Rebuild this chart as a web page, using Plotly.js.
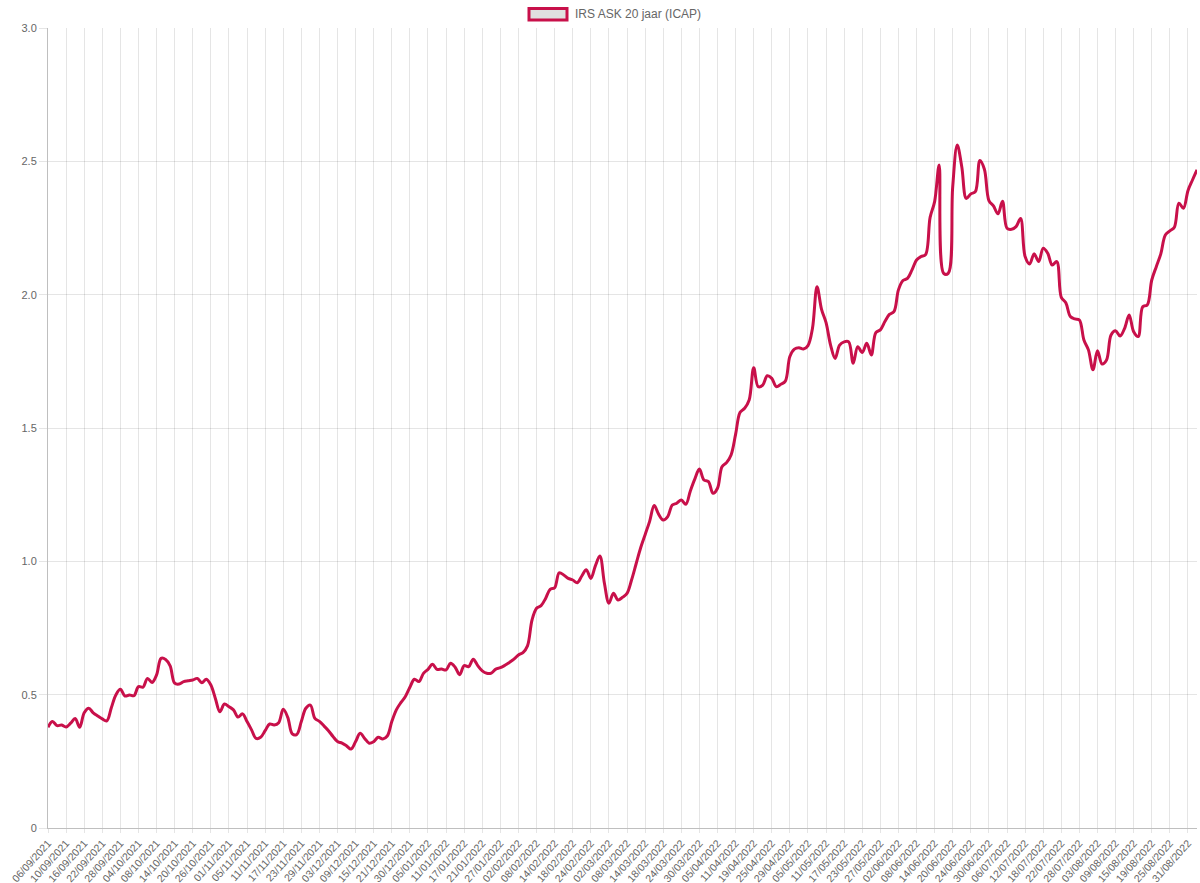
<!DOCTYPE html>
<html>
<head>
<meta charset="utf-8">
<script src="https://cdn.plot.ly/plotly-3.0.1.min.js"></script>
<style>
  html, body { margin: 0; padding: 0; background: #fff; }
  #chart { width: 1200px; height: 883px; }
</style>
</head>
<body>
<div id="chart"></div>
<script>
// IRS ASK 20 jaar (ICAP), one value per business day from 06/09/2021
const seriesName = 'IRS ASK 20 jaar (ICAP)';

const rates = [
  0.378, 0.399, 0.384, 0.386, 0.379, 0.393, 0.411, 0.378, 0.432, 0.449,
  0.432, 0.420, 0.409, 0.402, 0.451, 0.499, 0.520, 0.495, 0.499, 0.496,
  0.530, 0.528, 0.561, 0.546, 0.574, 0.636, 0.632, 0.608, 0.543, 0.540,
  0.549, 0.552, 0.555, 0.561, 0.545, 0.558, 0.536, 0.486, 0.436, 0.465,
  0.455, 0.443, 0.416, 0.428, 0.399, 0.368, 0.336, 0.340, 0.365, 0.390,
  0.386, 0.395, 0.445, 0.415, 0.353, 0.351, 0.399, 0.449, 0.461, 0.411,
  0.400, 0.383, 0.365, 0.343, 0.324, 0.318, 0.308, 0.296, 0.324, 0.355,
  0.336, 0.318, 0.324, 0.340, 0.334, 0.345, 0.399, 0.443, 0.470, 0.493,
  0.528, 0.558, 0.549, 0.580, 0.595, 0.614, 0.595, 0.596, 0.593, 0.618,
  0.603, 0.575, 0.609, 0.605, 0.633, 0.609, 0.589, 0.580, 0.581, 0.596,
  0.601, 0.610, 0.621, 0.633, 0.649, 0.658, 0.683, 0.780, 0.824, 0.834,
  0.861, 0.895, 0.901, 0.957, 0.949, 0.936, 0.930, 0.920, 0.945, 0.968,
  0.936, 0.983, 1.020, 0.918, 0.843, 0.880, 0.855, 0.865, 0.880, 0.930,
  0.990, 1.050, 1.100, 1.150, 1.209, 1.176, 1.155, 1.168, 1.211, 1.218,
  1.230, 1.214, 1.264, 1.309, 1.346, 1.305, 1.299, 1.255, 1.274, 1.355,
  1.370, 1.399, 1.476, 1.559, 1.574, 1.605, 1.726, 1.655, 1.661, 1.696,
  1.686, 1.655, 1.664, 1.676, 1.768, 1.796, 1.801, 1.796, 1.809, 1.874,
  2.030, 1.945, 1.895, 1.811, 1.761, 1.811, 1.823, 1.823, 1.743, 1.805,
  1.783, 1.818, 1.774, 1.858, 1.868, 1.899, 1.926, 1.936, 2.018, 2.053,
  2.061, 2.093, 2.130, 2.143, 2.150, 2.290, 2.349, 2.486, 2.080, 2.080,
  2.405, 2.561, 2.480, 2.361, 2.378, 2.386, 2.503, 2.470, 2.353, 2.333,
  2.303, 2.350, 2.249, 2.245, 2.255, 2.286, 2.143, 2.115, 2.153, 2.124,
  2.174, 2.155, 2.111, 2.124, 1.990, 1.970, 1.918, 1.909, 1.905, 1.830,
  1.793, 1.718, 1.790, 1.740, 1.755, 1.849, 1.865, 1.845, 1.874, 1.924,
  1.861, 1.843, 1.955, 1.961, 2.055, 2.105, 2.153, 2.224, 2.239, 2.253,
  2.343, 2.324, 2.390, 2.430, 2.468
];

// days without a quote (besides weekends)
const closedDays = ['24/12/2021', '27/12/2021', '28/12/2021', '15/04/2022', '18/04/2022'];

const yTickVals = [0, 0.5, 1, 1.5, 2, 2.5, 3];
const yTickText = ['0', '0.5', '1.0', '1.5', '2.0', '2.5', '3.0'];

function fmt(d) {
    const dd = String(d.getDate()).padStart(2, '0');
    const mm = String(d.getMonth() + 1).padStart(2, '0');
    return dd + '/' + mm + '/' + d.getFullYear();
}

// business-day labels, same count as the data
const dateLabels = [];
const day = new Date(2021, 8, 6);
while (dateLabels.length < rates.length) {
    const wd = day.getDay();
    const s = fmt(day);
    if (wd !== 0 && wd !== 6 && !closedDays.includes(s)) dateLabels.push(s);
    day.setDate(day.getDate() + 1);
}

// chart.js skips labels, only every 4th one shows
const xTickLabels = dateLabels.filter((d, i) => i % 4 === 0);

const lineColor = '#c8104a';
const gridColor = 'rgba(0,0,0,0.1)';

const trace = {
    x: dateLabels,
    y: rates,
    type: 'scatter',
    mode: 'lines',
    name: seriesName,
    line: {color: lineColor, width: 3, shape: 'spline', smoothing: 1},
    hoverinfo: 'x+y'
};

// legend drawn by hand so it looks like the chart.js box
const pw = 1200 - 48 - 3, ph = 883 - 28 - 55;
const px = v => (v - 48) / pw;
const py = v => (828 - v) / ph;

const layout = {
    width: 1200,
    height: 883,
    margin: {l: 48, r: 3, t: 28, b: 55},
    paper_bgcolor: '#fff',
    plot_bgcolor: '#fff',
    showlegend: false,
    font: {family: 'Liberation Sans, Arial, sans-serif', size: 11, color: '#666'},
    xaxis: {
        type: 'category',
        range: [0, rates.length - 1],
        autorange: false,
        tickmode: 'array',
        tickvals: xTickLabels,
        ticktext: xTickLabels,
        tickangle: -48,
        tickfont: {size: 10.5, color: '#666'},
        showgrid: true,
        gridcolor: gridColor,
        ticks: 'outside',
        ticklen: 4,
        tickcolor: gridColor,
        showline: true,
        linecolor: 'rgba(0,0,0,0.25)',
        linewidth: 1,
        zeroline: false
    },
    yaxis: {
        range: [0, 3],
        autorange: false,
        tickmode: 'array',
        tickvals: yTickVals,
        ticktext: yTickText,
        tickfont: {size: 11, color: '#666'},
        showgrid: true,
        gridcolor: gridColor,
        ticks: 'outside',
        ticklen: 8,
        tickcolor: gridColor,
        showline: true,
        linecolor: 'rgba(0,0,0,0.25)',
        linewidth: 1,
        zeroline: false
    },
    shapes: [{
        type: 'rect',
        xref: 'paper', yref: 'paper',
        x0: px(529), x1: px(567), y0: py(20), y1: py(8.5),
        fillcolor: '#e0e0e0',
        line: {color: lineColor, width: 3}
    }],
    annotations: [{
        xref: 'paper', yref: 'paper',
        x: px(573), y: py(14),
        xanchor: 'left', yanchor: 'middle',
        text: seriesName,
        showarrow: false,
        font: {size: 12, color: '#666'}
    }]
};

Plotly.newPlot('chart', [trace], layout, {displayModeBar: false, responsive: false});
</script>
</body>
</html>
